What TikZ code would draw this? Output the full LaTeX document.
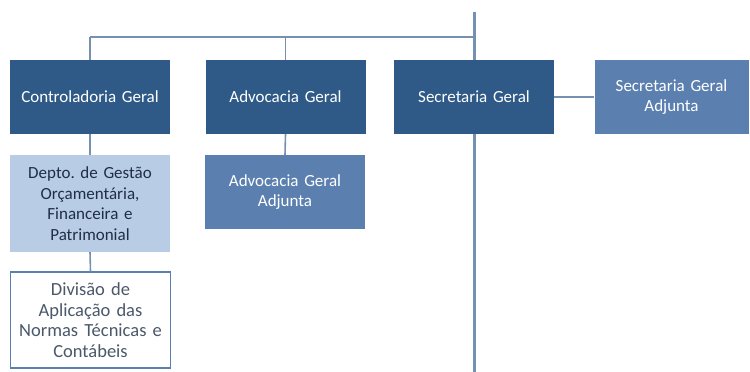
\documentclass[tikz,border=0pt]{standalone}
\usepackage{fontspec}
\setmainfont{Carlito}
\frenchspacing
\definecolor{dark}{HTML}{2F5A87}
\definecolor{mid}{HTML}{5B80B0}
\definecolor{light}{HTML}{B9CCE6}
\definecolor{linec}{HTML}{7690B0}
\definecolor{txtdark}{HTML}{1E2E45}
\begin{document}
\begin{tikzpicture}[x=1pt,y=-1pt,
  box/.style={rectangle, minimum width=160pt, minimum height=74pt, inner sep=2pt, align=center, font=\fontsize{17}{20.5}\selectfont, text width=156pt},
  darkbox/.style={box, fill=dark, text=white},
  midbox/.style={box, fill=mid, text=white},
  lightbox/.style={box, fill=light, text=txtdark, minimum height=97pt},
  whitebox/.style={box, fill=white, draw=mid, line width=1.2pt, text=txtdark!80, minimum height=96pt, font=\fontsize{18.5}{20.5}\selectfont},
  conn/.style={draw=linec, line width=1.6pt},
  mainline/.style={draw=linec, line width=3pt}]
\useasboundingbox (0,0) rectangle (750,372);
\node[darkbox] (cg) at (90,97) {Controladoria Geral};
\node[darkbox] (ag) at (285.5,97) {Advocacia Geral};
\node[darkbox] (sg) at (474,97) {Secretaria Geral};
\node[midbox, minimum width=153pt, text width=150pt] (sga) at (671.5,97) {Secretaria Geral\\Adjunta};
\node[lightbox] (dep) at (90,203.5) {Depto. de Gestão\\Orçamentária,\\Financeira e\\Patrimonial};
\node[midbox, minimum width=158pt] (aga) at (285,192) {Advocacia Geral\\Adjunta};
\node[whitebox, minimum width=158pt] (div) at (90.5,320) {Divisão de\\Aplicação das\\Normas Técnicas e\\Contábeis};
\coordinate (top) at (474,12);
\coordinate (bot) at (474,372);
\coordinate (hl) at (90,37);
\coordinate (hr) at (474,37);
\draw[mainline] (top) -- (sg.north);
\draw[mainline] (sg.south) -- (bot);
\draw[conn] (hl) -- (hr);
\draw[conn] (hl) -- (cg.north);
\draw[conn] (ag.north |- hl) -- (ag.north);
\draw[conn] (sg.east) -- (sga.west);
\draw[conn] (cg.south) -- (dep.north);
\draw[conn] (ag.south) -- (aga.north);
\draw[conn] (dep.south) -- (div.north);
\end{tikzpicture}
\end{document}
